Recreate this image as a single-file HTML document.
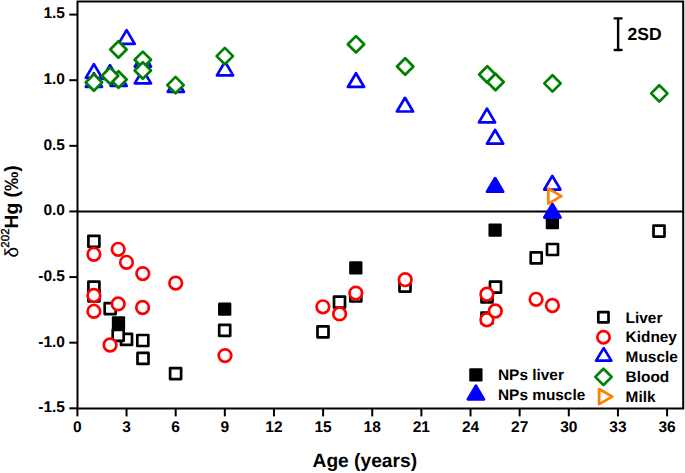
<!DOCTYPE html>
<html><head><meta charset="utf-8"><style>
html,body{margin:0;padding:0;background:#fff;}
body{width:685px;height:473px;overflow:hidden;font-family:"Liberation Sans",sans-serif;}
svg{display:block;}
</style></head><body>
<svg width="685" height="473" viewBox="0 0 685 473">
<rect width="685" height="473" fill="#fff"/>
<line x1="77.5" y1="211.45" x2="683.2" y2="211.45" stroke="#000" stroke-width="2"/>
<rect x="111.85" y="316.15" width="13.3" height="13.3" rx="1.2" fill="#000"/>
<rect x="218.05" y="302.45" width="13.3" height="13.3" rx="1.2" fill="#000"/>
<rect x="349.15" y="261.25" width="13.3" height="13.3" rx="1.2" fill="#000"/>
<rect x="488.45" y="223.45" width="13.3" height="13.3" rx="1.2" fill="#000"/>
<rect x="545.75" y="215.95" width="13.3" height="13.3" rx="1.2" fill="#000"/>
<rect x="88.40" y="235.80" width="11.0" height="11.0" fill="#fff" stroke="#000" stroke-width="2.7" stroke-linejoin="round"/>
<rect x="88.40" y="281.70" width="11.0" height="11.0" fill="#fff" stroke="#000" stroke-width="2.7" stroke-linejoin="round"/>
<rect x="88.40" y="290.30" width="11.0" height="11.0" fill="#fff" stroke="#000" stroke-width="2.7" stroke-linejoin="round"/>
<rect x="104.70" y="303.10" width="11.0" height="11.0" fill="#fff" stroke="#000" stroke-width="2.7" stroke-linejoin="round"/>
<rect x="121.00" y="333.90" width="11.0" height="11.0" fill="#fff" stroke="#000" stroke-width="2.7" stroke-linejoin="round"/>
<rect x="112.70" y="329.80" width="11.0" height="11.0" fill="#fff" stroke="#000" stroke-width="2.7" stroke-linejoin="round"/>
<rect x="137.30" y="335.00" width="11.0" height="11.0" fill="#fff" stroke="#000" stroke-width="2.7" stroke-linejoin="round"/>
<rect x="137.50" y="352.90" width="11.0" height="11.0" fill="#fff" stroke="#000" stroke-width="2.7" stroke-linejoin="round"/>
<rect x="170.10" y="368.10" width="11.0" height="11.0" fill="#fff" stroke="#000" stroke-width="2.7" stroke-linejoin="round"/>
<rect x="219.20" y="324.80" width="11.0" height="11.0" fill="#fff" stroke="#000" stroke-width="2.7" stroke-linejoin="round"/>
<rect x="317.50" y="326.30" width="11.0" height="11.0" fill="#fff" stroke="#000" stroke-width="2.7" stroke-linejoin="round"/>
<rect x="334.00" y="296.70" width="11.0" height="11.0" fill="#fff" stroke="#000" stroke-width="2.7" stroke-linejoin="round"/>
<rect x="350.30" y="290.50" width="11.0" height="11.0" fill="#fff" stroke="#000" stroke-width="2.7" stroke-linejoin="round"/>
<rect x="399.50" y="280.60" width="11.0" height="11.0" fill="#fff" stroke="#000" stroke-width="2.7" stroke-linejoin="round"/>
<rect x="481.50" y="291.40" width="11.0" height="11.0" fill="#fff" stroke="#000" stroke-width="2.7" stroke-linejoin="round"/>
<rect x="481.50" y="312.50" width="11.0" height="11.0" fill="#fff" stroke="#000" stroke-width="2.7" stroke-linejoin="round"/>
<rect x="490.00" y="281.70" width="11.0" height="11.0" fill="#fff" stroke="#000" stroke-width="2.7" stroke-linejoin="round"/>
<rect x="530.70" y="252.40" width="11.0" height="11.0" fill="#fff" stroke="#000" stroke-width="2.7" stroke-linejoin="round"/>
<rect x="547.00" y="244.00" width="11.0" height="11.0" fill="#fff" stroke="#000" stroke-width="2.7" stroke-linejoin="round"/>
<rect x="653.50" y="225.60" width="11.0" height="11.0" fill="#fff" stroke="#000" stroke-width="2.7" stroke-linejoin="round"/>
<circle cx="93.90" cy="254.30" r="6.3" fill="#fff" stroke="#ff0000" stroke-width="2.7"/>
<circle cx="93.90" cy="295.50" r="6.3" fill="#fff" stroke="#ff0000" stroke-width="2.7"/>
<circle cx="93.90" cy="311.30" r="6.3" fill="#fff" stroke="#ff0000" stroke-width="2.7"/>
<circle cx="110.10" cy="345.00" r="6.3" fill="#fff" stroke="#ff0000" stroke-width="2.7"/>
<circle cx="118.20" cy="249.30" r="6.3" fill="#fff" stroke="#ff0000" stroke-width="2.7"/>
<circle cx="118.20" cy="303.90" r="6.3" fill="#fff" stroke="#ff0000" stroke-width="2.7"/>
<circle cx="126.50" cy="262.30" r="6.3" fill="#fff" stroke="#ff0000" stroke-width="2.7"/>
<circle cx="142.80" cy="273.60" r="6.3" fill="#fff" stroke="#ff0000" stroke-width="2.7"/>
<circle cx="142.60" cy="307.50" r="6.3" fill="#fff" stroke="#ff0000" stroke-width="2.7"/>
<circle cx="175.70" cy="283.10" r="6.3" fill="#fff" stroke="#ff0000" stroke-width="2.7"/>
<circle cx="225.00" cy="355.60" r="6.3" fill="#fff" stroke="#ff0000" stroke-width="2.7"/>
<circle cx="322.90" cy="306.80" r="6.3" fill="#fff" stroke="#ff0000" stroke-width="2.7"/>
<circle cx="339.60" cy="313.90" r="6.3" fill="#fff" stroke="#ff0000" stroke-width="2.7"/>
<circle cx="355.80" cy="293.10" r="6.3" fill="#fff" stroke="#ff0000" stroke-width="2.7"/>
<circle cx="405.20" cy="279.70" r="6.3" fill="#fff" stroke="#ff0000" stroke-width="2.7"/>
<circle cx="486.90" cy="294.20" r="6.3" fill="#fff" stroke="#ff0000" stroke-width="2.7"/>
<circle cx="486.90" cy="319.80" r="6.3" fill="#fff" stroke="#ff0000" stroke-width="2.7"/>
<circle cx="495.30" cy="311.00" r="6.3" fill="#fff" stroke="#ff0000" stroke-width="2.7"/>
<circle cx="536.10" cy="299.30" r="6.3" fill="#fff" stroke="#ff0000" stroke-width="2.7"/>
<circle cx="552.40" cy="305.50" r="6.3" fill="#fff" stroke="#ff0000" stroke-width="2.7"/>
<polygon points="93.90,64.15 102.00,77.85 85.80,77.85" fill="#fff" stroke="#0000ff" stroke-width="2.7" stroke-linejoin="round"/>
<polygon points="93.90,73.15 102.00,86.85 85.80,86.85" fill="#fff" stroke="#0000ff" stroke-width="2.7" stroke-linejoin="round"/>
<polygon points="110.00,65.15 118.10,78.85 101.90,78.85" fill="#fff" stroke="#0000ff" stroke-width="2.7" stroke-linejoin="round"/>
<polygon points="118.60,72.15 126.70,85.85 110.50,85.85" fill="#fff" stroke="#0000ff" stroke-width="2.7" stroke-linejoin="round"/>
<polygon points="126.60,30.15 134.70,43.85 118.50,43.85" fill="#fff" stroke="#0000ff" stroke-width="2.7" stroke-linejoin="round"/>
<polygon points="142.90,52.95 151.00,66.65 134.80,66.65" fill="#fff" stroke="#0000ff" stroke-width="2.7" stroke-linejoin="round"/>
<polygon points="142.90,69.65 151.00,83.35 134.80,83.35" fill="#fff" stroke="#0000ff" stroke-width="2.7" stroke-linejoin="round"/>
<polygon points="175.80,78.15 183.90,91.85 167.70,91.85" fill="#fff" stroke="#0000ff" stroke-width="2.7" stroke-linejoin="round"/>
<polygon points="225.00,61.65 233.10,75.35 216.90,75.35" fill="#fff" stroke="#0000ff" stroke-width="2.7" stroke-linejoin="round"/>
<polygon points="356.00,73.25 364.10,86.95 347.90,86.95" fill="#fff" stroke="#0000ff" stroke-width="2.7" stroke-linejoin="round"/>
<polygon points="405.00,97.80 413.10,111.50 396.90,111.50" fill="#fff" stroke="#0000ff" stroke-width="2.7" stroke-linejoin="round"/>
<polygon points="487.00,108.65 495.10,122.35 478.90,122.35" fill="#fff" stroke="#0000ff" stroke-width="2.7" stroke-linejoin="round"/>
<polygon points="495.10,129.95 503.20,143.65 487.00,143.65" fill="#fff" stroke="#0000ff" stroke-width="2.7" stroke-linejoin="round"/>
<polygon points="552.30,175.85 560.40,189.55 544.20,189.55" fill="#fff" stroke="#0000ff" stroke-width="2.7" stroke-linejoin="round"/>
<polygon points="495.10,178.05 503.20,191.75 487.00,191.75" fill="#0000ff" stroke="#0000ff" stroke-width="2.7" stroke-linejoin="round"/>
<polygon points="552.40,203.85 560.50,217.55 544.30,217.55" fill="#0000ff" stroke="#0000ff" stroke-width="2.7" stroke-linejoin="round"/>
<polygon points="93.90,74.30 102.10,82.50 93.90,90.70 85.70,82.50" fill="#fff" stroke="#008000" stroke-width="2.7" stroke-linejoin="round"/>
<polygon points="118.50,71.30 126.70,79.50 118.50,87.70 110.30,79.50" fill="#fff" stroke="#008000" stroke-width="2.7" stroke-linejoin="round"/>
<polygon points="110.10,67.60 118.30,75.80 110.10,84.00 101.90,75.80" fill="#fff" stroke="#008000" stroke-width="2.7" stroke-linejoin="round"/>
<polygon points="118.40,41.30 126.60,49.50 118.40,57.70 110.20,49.50" fill="#fff" stroke="#008000" stroke-width="2.7" stroke-linejoin="round"/>
<polygon points="142.80,51.60 151.00,59.80 142.80,68.00 134.60,59.80" fill="#fff" stroke="#008000" stroke-width="2.7" stroke-linejoin="round"/>
<polygon points="142.80,62.30 151.00,70.50 142.80,78.70 134.60,70.50" fill="#fff" stroke="#008000" stroke-width="2.7" stroke-linejoin="round"/>
<polygon points="175.50,76.90 183.70,85.10 175.50,93.30 167.30,85.10" fill="#fff" stroke="#008000" stroke-width="2.7" stroke-linejoin="round"/>
<polygon points="224.80,47.90 233.00,56.10 224.80,64.30 216.60,56.10" fill="#fff" stroke="#008000" stroke-width="2.7" stroke-linejoin="round"/>
<polygon points="356.00,36.10 364.20,44.30 356.00,52.50 347.80,44.30" fill="#fff" stroke="#008000" stroke-width="2.7" stroke-linejoin="round"/>
<polygon points="405.20,58.30 413.40,66.50 405.20,74.70 397.00,66.50" fill="#fff" stroke="#008000" stroke-width="2.7" stroke-linejoin="round"/>
<polygon points="487.30,66.30 495.50,74.50 487.30,82.70 479.10,74.50" fill="#fff" stroke="#008000" stroke-width="2.7" stroke-linejoin="round"/>
<polygon points="495.50,73.80 503.70,82.00 495.50,90.20 487.30,82.00" fill="#fff" stroke="#008000" stroke-width="2.7" stroke-linejoin="round"/>
<polygon points="552.50,75.20 560.70,83.40 552.50,91.60 544.30,83.40" fill="#fff" stroke="#008000" stroke-width="2.7" stroke-linejoin="round"/>
<polygon points="659.30,85.20 667.50,93.40 659.30,101.60 651.10,93.40" fill="#fff" stroke="#008000" stroke-width="2.7" stroke-linejoin="round"/>
<polygon points="561.50,196.10 548.30,203.70 548.30,188.50" fill="#fff" stroke="#ff7f00" stroke-width="2.7" stroke-linejoin="round"/>
<rect x="77.5" y="1.5" width="605.7" height="407.0" fill="none" stroke="#000" stroke-width="2"/>
<line x1="77.40" y1="408.5" x2="77.40" y2="416.4" stroke="#000" stroke-width="2"/>
<text x="77.40" y="432.05" font-family="Liberation Sans, sans-serif" text-rendering="geometricPrecision" font-weight="bold" font-size="15.5" text-anchor="middle">0</text>
<line x1="126.54" y1="408.5" x2="126.54" y2="416.4" stroke="#000" stroke-width="2"/>
<text x="126.54" y="432.05" font-family="Liberation Sans, sans-serif" text-rendering="geometricPrecision" font-weight="bold" font-size="15.5" text-anchor="middle">3</text>
<line x1="175.68" y1="408.5" x2="175.68" y2="416.4" stroke="#000" stroke-width="2"/>
<text x="175.68" y="432.05" font-family="Liberation Sans, sans-serif" text-rendering="geometricPrecision" font-weight="bold" font-size="15.5" text-anchor="middle">6</text>
<line x1="224.82" y1="408.5" x2="224.82" y2="416.4" stroke="#000" stroke-width="2"/>
<text x="224.82" y="432.05" font-family="Liberation Sans, sans-serif" text-rendering="geometricPrecision" font-weight="bold" font-size="15.5" text-anchor="middle">9</text>
<line x1="273.96" y1="408.5" x2="273.96" y2="416.4" stroke="#000" stroke-width="2"/>
<text x="273.96" y="432.05" font-family="Liberation Sans, sans-serif" text-rendering="geometricPrecision" font-weight="bold" font-size="15.5" text-anchor="middle">12</text>
<line x1="323.10" y1="408.5" x2="323.10" y2="416.4" stroke="#000" stroke-width="2"/>
<text x="323.10" y="432.05" font-family="Liberation Sans, sans-serif" text-rendering="geometricPrecision" font-weight="bold" font-size="15.5" text-anchor="middle">15</text>
<line x1="372.24" y1="408.5" x2="372.24" y2="416.4" stroke="#000" stroke-width="2"/>
<text x="372.24" y="432.05" font-family="Liberation Sans, sans-serif" text-rendering="geometricPrecision" font-weight="bold" font-size="15.5" text-anchor="middle">18</text>
<line x1="421.38" y1="408.5" x2="421.38" y2="416.4" stroke="#000" stroke-width="2"/>
<text x="421.38" y="432.05" font-family="Liberation Sans, sans-serif" text-rendering="geometricPrecision" font-weight="bold" font-size="15.5" text-anchor="middle">21</text>
<line x1="470.52" y1="408.5" x2="470.52" y2="416.4" stroke="#000" stroke-width="2"/>
<text x="470.52" y="432.05" font-family="Liberation Sans, sans-serif" text-rendering="geometricPrecision" font-weight="bold" font-size="15.5" text-anchor="middle">24</text>
<line x1="519.66" y1="408.5" x2="519.66" y2="416.4" stroke="#000" stroke-width="2"/>
<text x="519.66" y="432.05" font-family="Liberation Sans, sans-serif" text-rendering="geometricPrecision" font-weight="bold" font-size="15.5" text-anchor="middle">27</text>
<line x1="568.80" y1="408.5" x2="568.80" y2="416.4" stroke="#000" stroke-width="2"/>
<text x="568.80" y="432.05" font-family="Liberation Sans, sans-serif" text-rendering="geometricPrecision" font-weight="bold" font-size="15.5" text-anchor="middle">30</text>
<line x1="617.94" y1="408.5" x2="617.94" y2="416.4" stroke="#000" stroke-width="2"/>
<text x="617.94" y="432.05" font-family="Liberation Sans, sans-serif" text-rendering="geometricPrecision" font-weight="bold" font-size="15.5" text-anchor="middle">33</text>
<line x1="667.08" y1="408.5" x2="667.08" y2="416.4" stroke="#000" stroke-width="2"/>
<text x="667.08" y="432.05" font-family="Liberation Sans, sans-serif" text-rendering="geometricPrecision" font-weight="bold" font-size="15.5" text-anchor="middle">36</text>
<line x1="69.3" y1="14.59" x2="77.5" y2="14.59" stroke="#000" stroke-width="2"/>
<text x="65.0" y="18.49" font-family="Liberation Sans, sans-serif" text-rendering="geometricPrecision" font-weight="bold" font-size="15.5" text-anchor="end">1.5</text>
<line x1="69.3" y1="80.21" x2="77.5" y2="80.21" stroke="#000" stroke-width="2"/>
<text x="65.0" y="84.11" font-family="Liberation Sans, sans-serif" text-rendering="geometricPrecision" font-weight="bold" font-size="15.5" text-anchor="end">1.0</text>
<line x1="69.3" y1="145.83" x2="77.5" y2="145.83" stroke="#000" stroke-width="2"/>
<text x="65.0" y="149.73" font-family="Liberation Sans, sans-serif" text-rendering="geometricPrecision" font-weight="bold" font-size="15.5" text-anchor="end">0.5</text>
<line x1="69.3" y1="211.45" x2="77.5" y2="211.45" stroke="#000" stroke-width="2"/>
<text x="65.0" y="215.35" font-family="Liberation Sans, sans-serif" text-rendering="geometricPrecision" font-weight="bold" font-size="15.5" text-anchor="end">0.0</text>
<line x1="69.3" y1="277.07" x2="77.5" y2="277.07" stroke="#000" stroke-width="2"/>
<text x="65.0" y="280.97" font-family="Liberation Sans, sans-serif" text-rendering="geometricPrecision" font-weight="bold" font-size="15.5" text-anchor="end">-0.5</text>
<line x1="69.3" y1="342.69" x2="77.5" y2="342.69" stroke="#000" stroke-width="2"/>
<text x="65.0" y="346.59" font-family="Liberation Sans, sans-serif" text-rendering="geometricPrecision" font-weight="bold" font-size="15.5" text-anchor="end">-1.0</text>
<line x1="69.3" y1="408.31" x2="77.5" y2="408.31" stroke="#000" stroke-width="2"/>
<text x="65.0" y="412.21" font-family="Liberation Sans, sans-serif" text-rendering="geometricPrecision" font-weight="bold" font-size="15.5" text-anchor="end">-1.5</text>
<text x="364.8" y="467.4" font-family="Liberation Sans, sans-serif" text-rendering="geometricPrecision" font-weight="bold" font-size="19.2" text-anchor="middle">Age (years)</text>
<g transform="translate(18,257.4) rotate(-90)"><text x="0" y="0" font-family="Liberation Sans, sans-serif" text-rendering="geometricPrecision"><tspan font-weight="normal" font-size="19">δ</tspan><tspan font-size="11.5" dx="-0.8" dy="-9" stroke="#000" stroke-width="0.35">202</tspan><tspan font-weight="bold" font-size="19.3" dy="9">Hg (‰)</tspan></text></g>
<line x1="618.1" y1="18.4" x2="618.1" y2="50" stroke="#000" stroke-width="2.4"/>
<line x1="614.6" y1="18.4" x2="621.6" y2="18.4" stroke="#000" stroke-width="2.3" stroke-linecap="round"/>
<line x1="614.6" y1="50" x2="621.6" y2="50" stroke="#000" stroke-width="2.3" stroke-linecap="round"/>
<text x="627.6" y="40.2" font-family="Liberation Sans, sans-serif" text-rendering="geometricPrecision" font-weight="bold" font-size="17.5">2SD</text>
<rect x="598.30" y="312.10" width="10.2" height="10.2" fill="#fff" stroke="#000" stroke-width="2.7" stroke-linejoin="round"/>
<circle cx="603.50" cy="337.20" r="6.15" fill="#fff" stroke="#ff0000" stroke-width="2.7"/>
<polygon points="603.70,348.15 611.35,360.65 596.05,360.65" fill="#fff" stroke="#0000ff" stroke-width="2.7" stroke-linejoin="round"/>
<polygon points="603.50,368.70 611.70,376.90 603.50,385.10 595.30,376.90" fill="#fff" stroke="#008000" stroke-width="2.7" stroke-linejoin="round"/>
<polygon points="612.30,396.60 599.10,404.20 599.10,389.00" fill="#fff" stroke="#ff7f00" stroke-width="2.7" stroke-linejoin="round"/>
<text x="625.6" y="322.8" font-family="Liberation Sans, sans-serif" text-rendering="geometricPrecision" font-weight="bold" font-size="15.4">Liver</text>
<text x="625.6" y="342.4" font-family="Liberation Sans, sans-serif" text-rendering="geometricPrecision" font-weight="bold" font-size="15.4">Kidney</text>
<text x="625.6" y="361.9" font-family="Liberation Sans, sans-serif" text-rendering="geometricPrecision" font-weight="bold" font-size="15.4">Muscle</text>
<text x="625.6" y="381.9" font-family="Liberation Sans, sans-serif" text-rendering="geometricPrecision" font-weight="bold" font-size="15.4">Blood</text>
<text x="625.6" y="402.0" font-family="Liberation Sans, sans-serif" text-rendering="geometricPrecision" font-weight="bold" font-size="15.4">Milk</text>
<rect x="469.25" y="368.15" width="13.3" height="13.3" rx="1.2" fill="#000"/>
<polygon points="475.90,385.65 484.00,399.35 467.80,399.35" fill="#0000ff" stroke="#0000ff" stroke-width="2.7" stroke-linejoin="round"/>
<text x="498" y="380.1" font-family="Liberation Sans, sans-serif" text-rendering="geometricPrecision" font-weight="bold" font-size="15.4">NPs liver</text>
<text x="498" y="399.6" font-family="Liberation Sans, sans-serif" text-rendering="geometricPrecision" font-weight="bold" font-size="15.4">NPs muscle</text>
</svg>
</body></html>
